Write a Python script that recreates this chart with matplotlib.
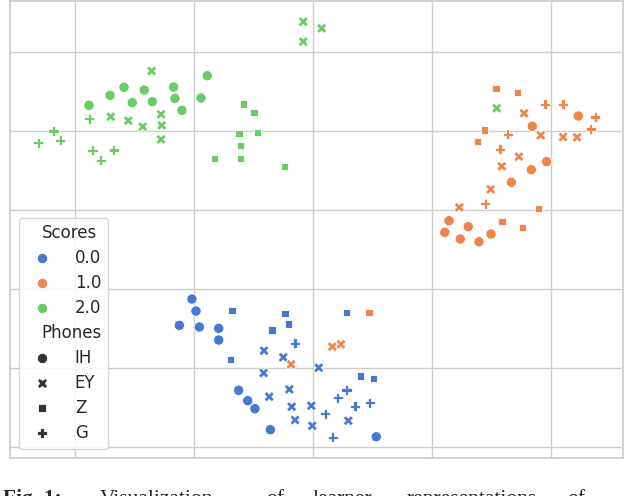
import matplotlib
matplotlib.use("Agg")
import matplotlib.pyplot as plt
import seaborn as sns
import pandas as pd

sns.set_theme(style="whitegrid")
plt.rcParams["legend.fontsize"] = 12
plt.rcParams["legend.title_fontsize"] = 12
plt.rcParams["legend.borderaxespad"] = 0.0
plt.rcParams["legend.labelspacing"] = 0.42
plt.rcParams["legend.handletextpad"] = 0.95

score_levels = ["0.0", "1.0", "2.0"]
phone_levels = ["IH", "EY", "Z", "G"]

# Score 0.0
ih0_x = [-10.18, -9.84, -11.24, -9.56, -7.93, -7.93, -6.25, -5.49, -4.88, -3.59, 5.32]
ih0_y = [-1.27, -2.79, -4.60, -4.81, -4.98, -6.46, -12.82, -14.14, -15.15, -17.81, -18.70]
ey0_x = [-4.12, -2.50, -4.15, 0.48, -1.99, -3.68, -1.79, -0.14, -1.51, -0.06, 2.97]
ey0_y = [-7.81, -8.65, -10.63, -9.96, -12.70, -13.63, -14.90, -14.77, -16.58, -17.31, -16.67]
z0_x = [-6.81, -2.35, -2.08, -3.45, -6.96, 2.80, 3.98, 5.07]
z0_y = [-2.75, -3.08, -4.43, -5.19, -8.90, -2.95, -11.01, -11.36]
g0_x = [-1.51, 2.83, 2.08, 3.53, 4.77, 1.03, 1.66]
g0_y = [-6.87, -12.79, -13.76, -14.85, -14.39, -15.79, -18.77]

# Score 1.0
ih1_x = [22.31, 18.44, 19.65, 18.36, 16.68, 11.44, 13.06, 11.08, 12.39, 13.96, 14.97]
ih1_y = [21.90, 20.60, 16.12, 15.10, 13.51, 8.65, 7.89, 7.18, 6.33, 5.99, 6.96]
ey1_x = [17.75, 19.15, 21.03, 22.20, 17.32, 15.87, 14.94, 12.30, 1.62, 2.35, -1.85]
ey1_y = [22.24, 19.46, 19.24, 19.20, 16.75, 15.53, 12.62, 10.34, -7.30, -7.00, -9.53]
z1_x = [15.39, 17.22, 14.41, 13.82, 18.95, 15.89, 17.60, 4.71]
z1_y = [25.41, 24.90, 20.13, 18.70, 10.17, 8.52, 7.81, -2.95]
g1_x = [19.51, 21.03, 23.74, 23.35, 16.37, 15.73, 14.49]
g1_y = [23.38, 23.38, 21.78, 20.26, 19.58, 17.69, 10.80]

# Score 2.0
ih2_x = [-18.84, -17.07, -15.89, -15.20, -14.19, -13.51, -11.72, -11.61, -11.02, -9.42, -8.89]
ih2_y = [23.26, 24.52, 25.54, 23.59, 25.19, 23.71, 25.57, 24.14, 22.62, 24.18, 27.00]
ey2_x = [-0.82, -0.82, 0.73, -13.57, -17.01, -15.53, -14.32, -12.78, -12.72, -12.78, 15.45]
ey2_y = [33.84, 31.31, 33.00, 27.60, 21.81, 21.31, 20.55, 22.12, 20.72, 18.95, 22.88]
z2_x = [-5.86, -4.96, -6.22, -4.65, -6.11, -8.30, -6.11, -2.41]
z2_y = [23.42, 22.32, 19.66, 19.79, 18.19, 16.50, 16.50, 15.48]
g2_x = [-23.10, -21.81, -21.25, -18.81, -18.53, -17.85, -16.76]
g2_y = [18.52, 20.00, 18.83, 21.56, 17.56, 16.29, 17.60]

groups = [
    ("0.0", "IH", ih0_x, ih0_y), ("0.0", "EY", ey0_x, ey0_y),
    ("0.0", "Z", z0_x, z0_y), ("0.0", "G", g0_x, g0_y),
    ("1.0", "IH", ih1_x, ih1_y), ("1.0", "EY", ey1_x, ey1_y),
    ("1.0", "Z", z1_x, z1_y), ("1.0", "G", g1_x, g1_y),
    ("2.0", "IH", ih2_x, ih2_y), ("2.0", "EY", ey2_x, ey2_y),
    ("2.0", "Z", z2_x, z2_y), ("2.0", "G", g2_x, g2_y),
]
rows = []
for sc, ph, xs, ys in groups:
    for xv, yv in zip(xs, ys):
        rows.append({"x": xv, "y": yv, "Scores": sc, "Phones": ph})
df = pd.DataFrame(rows)

W, H = 630, 496
fig = plt.figure(figsize=(W / 100, H / 100), dpi=100)
ax = fig.add_axes([10 / W, 1 - 458 / H, 613 / W, 457 / H])
sns.scatterplot(data=df, x="x", y="y", hue="Scores", style="Phones",
                hue_order=score_levels, style_order=phone_levels,
                palette="muted", s=55, ax=ax)
ax.set_xlim(-25.48, 26.07)
ax.set_ylim(-21.39, 36.46)
ax.set_xticks([-20, -10, 0, 10, 20])
ax.set_yticks([-20, -10, 0, 10, 20, 30])
ax.set_xticklabels([])
ax.set_yticklabels([])
ax.set_xlabel("")
ax.set_ylabel("")
ax.tick_params(length=0)

leg = ax.get_legend()
# subtitle rows ("Scores", "Phones") are shifted left, as seaborn does
for col in leg._legend_handle_box.get_children():
    for item in col.get_children():
        draw_area, text_area = item.get_children()
        label = text_area.get_children()[0].get_text()
        if label in ("Scores", "Phones"):
            draw_area.set_width(0)
leg.set_loc("lower left")
leg.set_bbox_to_anchor((9 / 613, 9 / 457), transform=ax.transAxes)

# caption (partially cut off at the bottom edge, as in the reference)
base_y = 1 - 504 / H
cap_font = "Liberation Serif"
fig.text(3 / W, base_y, "Fig. 1:", fontsize=15.5, fontweight="bold",
         family=cap_font, va="baseline", ha="left")
for word, px in [("Visualization", 100), ("of", 266), ("learner", 313),
                 ("representations", 407), ("of", 567)]:
    fig.text(px / W, base_y, word, fontsize=15.5, family=cap_font,
             va="baseline", ha="left")

fig.savefig("out.png", dpi=100)
